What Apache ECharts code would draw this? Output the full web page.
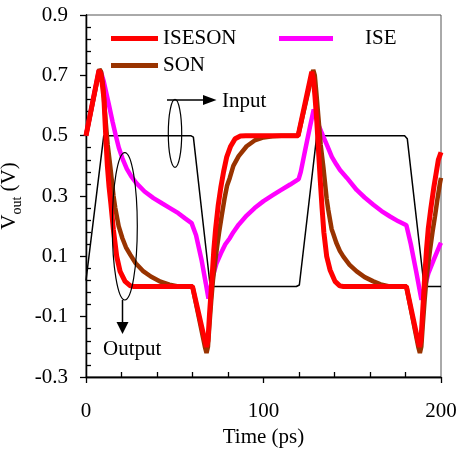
<!DOCTYPE html>
<html><head><meta charset="utf-8">
<script src="https://cdn.jsdelivr.net/npm/echarts@6/dist/echarts.min.js"></script>
<style>html,body{margin:0;padding:0;background:#fff}#c{width:459px;height:451px}</style>
</head><body><div id="c"></div>
<script>
// ---- data ----
const xTickLabels = [0, 100, 200];
const yTickLabels = [-0.3, -0.1, 0.1, 0.3, 0.5, 0.7, 0.9];
const xMinorTicks = [20, 40, 60, 80, 120, 140, 160, 180];
const yMinorTicks = [-0.26, -0.22, -0.18, -0.14, -0.06, -0.02, 0.02, 0.06, 0.14, 0.18, 0.22, 0.26, 0.34, 0.38, 0.42, 0.46, 0.54, 0.58, 0.62, 0.66, 0.74, 0.78, 0.82, 0.86];
const seriesNames = ['ISESON', 'ISE', 'SON', 'Input'];

const inputWave = [[0,0.02],[10,0.5],[59,0.5],[59.8,0.505],[60.5,0.495],[70,0],[118.5,0],[119.3,-0.006],[120.2,0.005],[130,0.5],[179.5,0.5],[180.2,0.505],[181,0.49],[190.5,0],[200,0]];

const isesonWave = [[0,0.5],[7.3,0.717],[8.3,0.705],[9.2,0.67],[10.1,0.624],[11.1,0.502],[12,0.403],[13,0.33],[14,0.275],[15.4,0.19],[17.3,0.1],[19.2,0.05],[22,0.017],[25,0.002],[27,0],[60,0],[67,-0.18],[67.9,-0.2],[68.7,-0.18],[69.6,-0.09],[70.8,0.01],[72,0.12],[73,0.19],[74.5,0.27],[76,0.33],[77.5,0.38],[79.3,0.43],[81.5,0.465],[84,0.49],[87,0.499],[90,0.5],[119.5,0.5],[127.2,0.712],[128.1,0.69],[129,0.63],[130,0.55],[131,0.45],[132,0.35],[133,0.26],[134,0.18],[135.6,0.1],[137.5,0.055],[140.3,0.017],[143,0.002],[145,0],[180.5,0],[187,-0.18],[187.9,-0.2],[188.7,-0.18],[189.6,-0.09],[190.6,0.01],[191.8,0.12],[192.8,0.19],[194.3,0.26],[196,0.33],[198.5,0.42],[200,0.445]];

const sonWave = [[0,0.5],[7.6,0.72],[8.5,0.712],[9.5,0.67],[10.9,0.56],[12.2,0.47],[13.7,0.397],[15.5,0.3],[16.5,0.26],[18.4,0.2],[20.5,0.16],[22.5,0.13],[25,0.105],[28,0.077],[32,0.052],[36.5,0.033],[42,0.016],[47,0.006],[52,0],[60,0],[67,-0.2],[67.9,-0.22],[68.7,-0.2],[69.5,-0.13],[70.5,-0.05],[71.5,0.02],[72.5,0.07],[73.7,0.125],[75,0.18],[76.6,0.24],[78,0.29],[79.5,0.335],[81,0.36],[83,0.4],[86,0.432],[90.5,0.465],[95,0.484],[100,0.494],[105,0.498],[110,0.5],[119.5,0.5],[128,0.718],[128.9,0.7],[129.8,0.64],[130.9,0.563],[132.2,0.47],[133.7,0.397],[135.6,0.29],[136.5,0.254],[138.4,0.19],[139.3,0.175],[141,0.145],[143,0.118],[145,0.099],[148.5,0.072],[152.5,0.05],[157,0.031],[161.9,0.017],[166,0.007],[171,0],[180.5,0],[187.2,-0.2],[188.1,-0.22],[188.9,-0.2],[189.7,-0.13],[190.7,-0.05],[191.7,0.02],[192.7,0.07],[193.8,0.12],[195.2,0.18],[196.6,0.232],[198,0.29],[199.4,0.342],[200,0.36]];

const iseWave = [[0,0.5],[7.3,0.717],[8.5,0.71],[10,0.68],[11.5,0.64],[13,0.6],[15,0.545],[16.7,0.502],[18.5,0.46],[20.5,0.425],[23,0.39],[25.5,0.365],[28.5,0.342],[33,0.315],[38,0.293],[43,0.275],[47.3,0.26],[52,0.243],[56,0.225],[59.5,0.21],[62,0.17],[65.2,0.085],[67.5,0.01],[69,-0.04],[70,-0.01],[71.5,0.035],[73.6,0.078],[76,0.11],[78.5,0.14],[81,0.16],[83,0.18],[86,0.205],[90.5,0.235],[95,0.26],[100,0.283],[105,0.302],[109.3,0.318],[115,0.338],[119.8,0.356],[121,0.38],[123.4,0.45],[126.2,0.53],[128.3,0.587],[129.5,0.565],[131,0.535],[133.7,0.497],[136,0.465],[138.5,0.43],[141,0.405],[143.1,0.386],[147,0.36],[152.5,0.32],[157,0.295],[161.9,0.271],[166.5,0.25],[171.3,0.232],[176,0.216],[180.5,0.203],[183,0.14],[186,0.05],[189,-0.044],[190.5,-0.01],[192.9,0.044],[196,0.09],[199.4,0.138],[200,0.145]];

// ---- chart ----
const FONT = '"Liberation Serif","Times New Roman",serif';
const chart = echarts.init(document.getElementById('c'), null, {renderer: 'canvas'});
const txt = {fontFamily: FONT, fontSize: 21, color: '#000'};
const xMin = xTickLabels[0], xMax = xTickLabels[xTickLabels.length - 1];
const yMin = yTickLabels[0], yMax = yTickLabels[yTickLabels.length - 1];
const tickStyle = {color: '#000', width: 1.3};

chart.setOption({
  animation: false,
  backgroundColor: '#fff',
  grid: {left: 86, right: 18, top: 15, bottom: 74, show: true, borderColor: '#555', borderWidth: 1, containLabel: false, outerBoundsMode: 'none'},
  legend: [
    {data: [seriesNames[0], seriesNames[2]], orient: 'vertical', left: 106, top: 23, icon: 'rect', itemWidth: 47, itemHeight: 5, itemGap: 6, textStyle: Object.assign({}, txt), selectedMode: false},
    {data: [seriesNames[1]], orient: 'vertical', left: 274, top: 23, icon: 'rect', itemWidth: 54, itemHeight: 5, textStyle: Object.assign({padding: [0,0,0,27]}, txt), selectedMode: false}
  ],
  xAxis: [{
    type: 'value', min: xMin, max: xMax, interval: 100,
    axisLine: {onZero: false, lineStyle: {color: '#000', width: 1.3}},
    axisTick: {show: true, length: 6, lineStyle: tickStyle},
    splitLine: {show: false},
    axisLabel: Object.assign({margin: 24}, txt),
    name: 'Time (ps)', nameLocation: 'middle', nameGap: 45,
    nameTextStyle: Object.assign({}, txt)
  }, {
    type: 'value', min: xMin, max: xMax, interval: 20, position: 'bottom',
    axisLine: {show: true, onZero: false, lineStyle: {color: '#000', width: 1.3}},
    axisTick: {show: true, inside: true, length: 5, customValues: xMinorTicks, lineStyle: tickStyle},
    axisLabel: {show: false}, splitLine: {show: false}
  }],
  yAxis: [{
    type: 'value', min: yMin, max: yMax, interval: 0.2,
    axisLine: {show: true, onZero: false, lineStyle: {color: '#000', width: 1.3}},
    axisTick: {show: true, length: 6, lineStyle: tickStyle},
    splitLine: {show: false},
    axisLabel: Object.assign({margin: 18, formatter: v => (Math.round(v*10)/10).toFixed(1)}, txt),
    name: '{v|V}{s|out}{v| (V)}', nameLocation: 'middle', nameGap: 43, nameRotate: 90,
    nameTextStyle: {rich: {
      v: {fontFamily: FONT, fontSize: 21, color: '#000', lineHeight: 28, verticalAlign: 'middle'},
      s: {fontFamily: FONT, fontSize: 14, color: '#000', lineHeight: 28, verticalAlign: 'bottom'}
    }}
  }, {
    type: 'value', min: yMin, max: yMax, interval: 0.04, position: 'left',
    axisLine: {show: true, onZero: false, lineStyle: {color: '#000', width: 1.3}},
    axisTick: {show: true, inside: true, length: 5, customValues: yMinorTicks, lineStyle: tickStyle},
    axisLabel: {show: false}, splitLine: {show: false}
  }],
  series: [
    {name: seriesNames[3], type: 'line', data: inputWave, symbol: 'none', lineStyle: {color: '#000', width: 1.5}, itemStyle: {color: '#000'}},
    {name: seriesNames[1], type: 'line', xAxisIndex: 1, yAxisIndex: 1, data: iseWave, symbol: 'none', lineStyle: {color: '#FF00FF', width: 4.5}, itemStyle: {color: '#FF00FF'}},
    {name: seriesNames[2], type: 'line', data: sonWave, symbol: 'none', lineStyle: {color: '#993300', width: 4.5}, itemStyle: {color: '#993300'}},
    {name: seriesNames[0], type: 'line', data: isesonWave, symbol: 'none', lineStyle: {color: '#FF0000', width: 5}, itemStyle: {color: '#FF0000'}}
  ],
  graphic: [
    {type: 'ellipse', shape: {cx: 175, cy: 133.4, rx: 6.7, ry: 34}, style: {fill: null, stroke: '#000', lineWidth: 1.2}, z: 100},
    {type: 'line', shape: {x1: 167, y1: 100, x2: 205, y2: 100}, style: {stroke: '#000', lineWidth: 1.5}, z: 100},
    {type: 'polygon', shape: {points: [[203, 95], [216.5, 100], [203, 105]]}, style: {fill: '#000'}, z: 100},
    {type: 'text', x: 222, y: 101, style: {text: 'Input', font: '21px ' + FONT, fill: '#000', verticalAlign: 'middle'}, z: 100},
    {type: 'ellipse', shape: {cx: 124.8, cy: 226.3, rx: 12.5, ry: 73.7}, style: {fill: null, stroke: '#000', lineWidth: 1.2}, z: 100},
    {type: 'line', shape: {x1: 122.5, y1: 300, x2: 122.5, y2: 323}, style: {stroke: '#000', lineWidth: 1.5}, z: 100},
    {type: 'polygon', shape: {points: [[116.5, 322], [122.5, 334], [128.5, 322]]}, style: {fill: '#000'}, z: 100},
    {type: 'text', x: 103, y: 349.5, style: {text: 'Output', font: '21px ' + FONT, fill: '#000', verticalAlign: 'middle'}, z: 100}
  ]
});
</script></body></html>
